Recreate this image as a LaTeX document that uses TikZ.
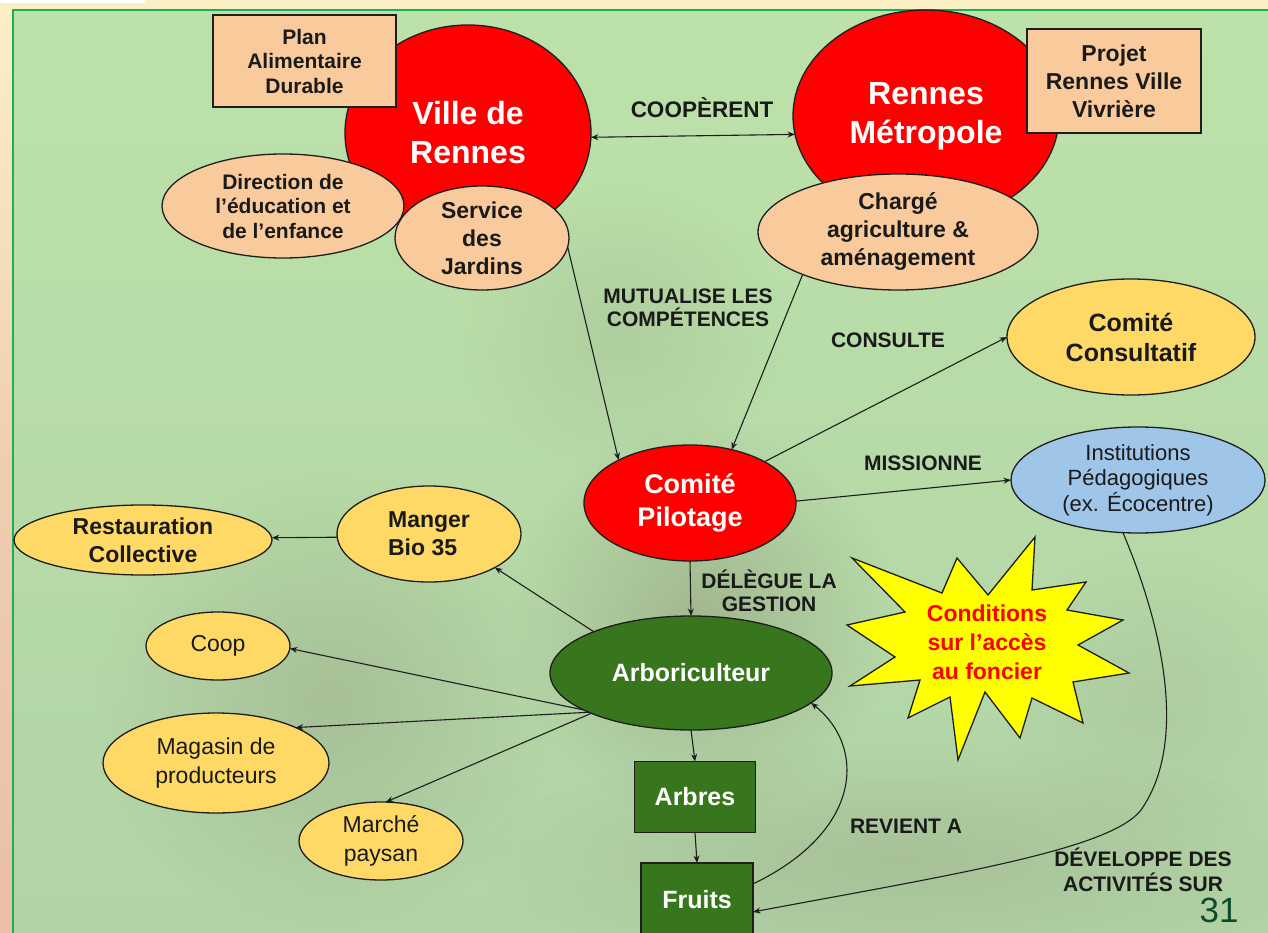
\documentclass[tikz,border=0pt]{standalone}
\usepackage{fontspec}
\setmainfont{Liberation Sans}
\usetikzlibrary{shapes.geometric,arrows.meta,fadings}
\definecolor{cream}{HTML}{FBEFC6}
\definecolor{pinkish}{HTML}{E9BFA6}
\definecolor{bgtop}{HTML}{BCE2A9}
\definecolor{bgbot}{HTML}{B2D3A6}
\definecolor{framegreen}{HTML}{1EAE55}
\definecolor{redfill}{HTML}{FF0000}
\definecolor{peach}{HTML}{F9CB9C}
\definecolor{yellowfill}{HTML}{FFD966}
\definecolor{bluefill}{HTML}{9FC5E8}
\definecolor{darkgreen}{HTML}{38761D}
\definecolor{starfill}{HTML}{FFFF00}
\definecolor{linec}{HTML}{1E1E1E}
\definecolor{txt}{HTML}{1A1A1A}
\definecolor{pagenum}{HTML}{0E4A2C}
\definecolor{blobc}{HTML}{7D7A66}
\tikzfading[name=softblob, inner color=transparent!0, outer color=transparent!100]
\begin{document}
\begin{tikzpicture}[x=1pt,y=-1pt,
  base/.style={inner sep=0pt, outer sep=0pt, draw=linec, line width=1.3pt, align=center, text=txt},
  ell/.style={base, ellipse},
  boxn/.style={base, rectangle},
  fa/.style={font=\fontsize{21}{24.5}\selectfont\bfseries},
  fb/.style={font=\fontsize{23}{28}\selectfont\bfseries},
  fc/.style={font=\fontsize{23}{28.5}\selectfont},
  ft/.style={font=\fontsize{32}{39}\selectfont\bfseries, text=white},
  fm/.style={font=\fontsize{27}{33}\selectfont\bfseries, text=white},
  lab/.style={inner sep=0pt, align=center, text=txt, font=\fontsize{21}{23.5}\selectfont\bfseries},
  conn/.style={draw=linec, line width=1.1pt, -{Stealth[length=7.5pt,width=6pt]}},
  dconn/.style={draw=linec, line width=1.1pt, {Stealth[length=7.5pt,width=6pt]}-{Stealth[length=7.5pt,width=6pt]}},
  blob/.style={fill=blobc, path fading=softblob}
]
\useasboundingbox (0,0) rectangle (1268,933);
% ---------- background ----------
\fill[cream] (0,0) rectangle (1268,933);
\shade[top color=cream, bottom color=pinkish, middle color=pinkish!70!cream] (0,10) rectangle (13,933);
\fill[white] (0,0) rectangle (145,3);
\shade[top color=bgtop, bottom color=bgbot] (13,10) rectangle (1268,933);
\fill[blob, fill opacity=0.35] (700,620) ellipse (190 and 200);
\fill[blob, fill opacity=0.25] (330,700) ellipse (230 and 230);
\fill[blob, fill opacity=0.22] (900,860) ellipse (420 and 120);
\fill[blob, fill opacity=0.15] (620,330) ellipse (160 and 150);
\fill[blob, fill opacity=0.12] (1150,700) ellipse (150 and 150);
\draw[framegreen, line width=2.4pt] (13,933) -- (13,10) -- (1268,10);

% ---------- top left cluster ----------
\node[ell, fill=redfill, minimum width=246pt, minimum height=216pt, ft] (V) at (468,133) {Ville de\\Rennes};
\node[boxn, fill=peach, minimum width=183pt, minimum height=92pt, fa] (PAD) at (304.5,61) {Plan\\Alimentaire\\Durable};
\node[ell, fill=peach, minimum width=242pt, minimum height=104pt, fa] (D) at (283,206) {Direction de\\l’éducation et\\de l’enfance};
\node[ell, fill=peach, minimum width=174pt, minimum height=104pt, fb] (S) at (482,238) {Service\\des\\Jardins};

% ---------- top right cluster ----------
\node[ell, fill=redfill, minimum width=266pt, minimum height=212pt, ft] (M) at (926,116) {Rennes\\Métropole};
\node[boxn, fill=peach, minimum width=174pt, minimum height=104pt, fb] (PRV) at (1114,81) {Projet\\Rennes Ville\\Vivrière};
\node[ell, fill=peach, minimum width=280pt, minimum height=116pt, fb] (G) at (898,232) {Chargé\\agriculture \&\\aménagement};

% ---------- middle ----------
\node[ell, fill=redfill, minimum width=212pt, minimum height=116pt, fm] (C) at (690,503) {Comité\\Pilotage};
\node[ell, fill=yellowfill, minimum width=248pt, minimum height=116pt, font=\fontsize{25}{30}\selectfont\bfseries] (K) at (1131,337) {Comité\\Consultatif};
\node[ell, fill=bluefill, minimum width=254pt, minimum height=106pt, font=\fontsize{22}{25.5}\selectfont] (I) at (1138,480) {Institutions\\Pédagogiques\\(ex. Écocentre)};

\node[ell, fill=darkgreen, minimum width=282pt, minimum height=114pt, font=\fontsize{25}{30}\selectfont\bfseries, text=white] (A) at (691,673) {Arboriculteur};

% ---------- left ----------
\node[ell, fill=yellowfill, minimum width=258pt, minimum height=70pt, fb] (R) at (143,540) {Restauration\\Collective};
\node[ell, fill=yellowfill, minimum width=184pt, minimum height=96pt, fb, align=left] (B) at (429,534) {Manger\\Bio 35};
\node[ell, fill=yellowfill, minimum width=144pt, minimum height=68pt, fc] (P) at (218,646) {Coop};
\node[ell, fill=yellowfill, minimum width=226pt, minimum height=100pt, fc] (Mg) at (216,763) {Magasin de\\producteurs};
\node[ell, fill=yellowfill, minimum width=164pt, minimum height=78pt, fc] (Mp) at (381,841) {Marché\\paysan};

% ---------- bottom ----------
\node[boxn, fill=darkgreen, minimum width=121pt, minimum height=71pt, font=\fontsize{25}{30}\selectfont\bfseries, text=white] (Ab) at (695,797) {Arbres};
\node[boxn, fill=darkgreen, minimum width=112pt, minimum height=74pt, font=\fontsize{25}{30}\selectfont\bfseries, text=white] (Fr) at (697,900) {Fruits};

% ---------- star ----------
\draw[linec, line width=1.3pt, fill=starfill, line join=miter]
  (852,558) -- (942,593) -- (957,558) -- (988,595) -- (1035,537) -- (1032,590)
  -- (1086,582) -- (1067,610) -- (1123,620) -- (1078,645) -- (1129,673) -- (1073,682)
  -- (1083,723) -- (1032,698) -- (1020,738) -- (985,692) -- (958,760) -- (950,697)
  -- (908,718) -- (920,680) -- (850,686) -- (895,657) -- (847,625) -- (905,612) -- cycle;
\node[inner sep=0pt, align=center, text=redfill, font=\fontsize{23}{29}\selectfont\bfseries] (star) at (987,642) {Conditions\\sur l’accès\\au foncier};

% ---------- labels ----------
\node[lab, font=\fontsize{22.5}{26}\selectfont\bfseries] (l1) at (702,108) {COOPÈRENT};
\node[lab] (l2) at (688,308) {MUTUALISE LES\\COMPÉTENCES};
\node[lab] (l3) at (888,340) {CONSULTE};
\node[lab] (l4) at (923,463) {MISSIONNE};
\node[lab] (l5) at (769,591) {DÉLÈGUE LA\\GESTION};
\node[lab] (l6) at (906,826) {REVIENT A};
\node[lab, font=\fontsize{21}{25}\selectfont\bfseries] (l7) at (1143,870) {DÉVELOPPE DES\\ACTIVITÉS SUR};

\node[inner sep=0pt, text=pagenum, font=\fontsize{35}{40}\selectfont] (pg) at (1219,910) {31};

% ---------- connectors ----------
\draw[dconn] (V.-2) -- (M.188.7);
\draw[conn] (S.-6) -- (C.149.4);
\draw[conn] (G.204) -- (C.52);
\draw[conn] (C.29) -- (K.180);
\draw[conn] (C.1.6) -- (I.180);
\draw[conn] (C.-90) -- (A.90);
\draw[conn] (A.157) -- (B.-27.6);
\draw[conn] (B.182.5) -- (R.1.3);
\draw[conn] (A.199.8) -- (P.-2);
\draw[conn] (A.201.6) -- (Mg.24.3);
\draw[conn] (A.202.2) -- (Mp.83);
\draw[conn] (A.-90) -- (Ab.north);
\draw[conn] (Ab.south) -- (Fr.north);
\draw[conn] (Fr.16.6) .. controls (865,830) and (865,745) .. (A.-14.3);
\draw[conn] (I.254) .. controls (1160,620) and (1190,740) .. (1141,810)
   .. controls (1110,850) and (950,875) .. (Fr.-12);
\end{tikzpicture}
\end{document}
